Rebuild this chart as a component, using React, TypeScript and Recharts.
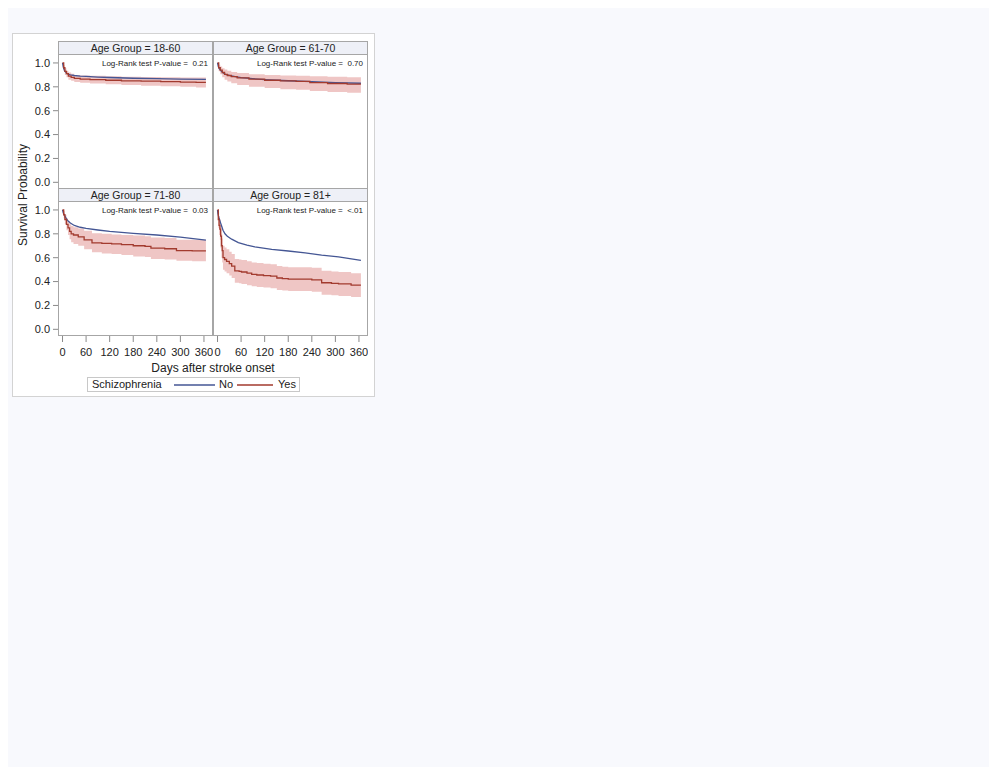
import React from 'react';
import { ComposedChart, Line, Area, XAxis, YAxis } from 'recharts';

// ---- axis ticks and panel labels ----
const dayTicks = [0, 60, 120, 180, 240, 300, 360];
const survTicks = [0, 0.2, 0.4, 0.6, 0.8, 1.0];
const groupLabels = ['Age Group = 18-60', 'Age Group = 61-70', 'Age Group = 71-80', 'Age Group = 81+'];
const pValueLabels = ['0.21', '0.70', '0.03', '<.01'];

// ---- Age 18-60 ----
const noDays1860 = [0, 2, 5, 10, 15, 20, 30, 45, 60, 90, 120, 180, 240, 300, 365];
const noSurv1860 = [1.0, 0.965, 0.935, 0.915, 0.905, 0.9, 0.895, 0.89, 0.887, 0.882, 0.878, 0.872, 0.868, 0.865, 0.862];
const yesDays1860 = [0, 3, 6, 10, 15, 22, 30, 45, 70, 110, 150, 200, 250, 300, 340, 365];
const yesSurv1860 = [1.0, 0.96, 0.93, 0.91, 0.89, 0.88, 0.87, 0.865, 0.86, 0.855, 0.85, 0.847, 0.843, 0.84, 0.838, 0.838];
const yesLower1860 = [1.0, 0.94, 0.9, 0.88, 0.86, 0.85, 0.84, 0.835, 0.828, 0.822, 0.816, 0.81, 0.805, 0.8, 0.795, 0.795];
const yesUpper1860 = [1.0, 0.98, 0.955, 0.935, 0.92, 0.91, 0.9, 0.895, 0.892, 0.888, 0.885, 0.883, 0.881, 0.879, 0.878, 0.878];

// ---- Age 61-70 ----
const noDays6170 = [0, 2, 5, 10, 15, 20, 30, 45, 60, 90, 120, 180, 240, 300, 365];
const noSurv6170 = [1.0, 0.97, 0.95, 0.93, 0.915, 0.905, 0.895, 0.885, 0.877, 0.868, 0.861, 0.851, 0.843, 0.836, 0.83];
const yesDays6170 = [0, 3, 7, 12, 18, 25, 35, 50, 80, 120, 160, 200, 235, 280, 330, 365];
const yesSurv6170 = [1.0, 0.96, 0.94, 0.92, 0.905, 0.895, 0.885, 0.875, 0.865, 0.855, 0.85, 0.845, 0.835, 0.828, 0.822, 0.822];
const yesLower6170 = [1.0, 0.93, 0.905, 0.88, 0.86, 0.845, 0.83, 0.815, 0.8, 0.79, 0.78, 0.775, 0.765, 0.757, 0.75, 0.75];
const yesUpper6170 = [1.0, 0.985, 0.97, 0.955, 0.945, 0.935, 0.925, 0.915, 0.905, 0.9, 0.895, 0.892, 0.888, 0.884, 0.88, 0.88];

// ---- Age 71-80 ----
const noDays7180 = [0, 2, 5, 10, 15, 20, 30, 45, 60, 90, 120, 180, 240, 300, 365];
const noSurv7180 = [1.0, 0.975, 0.955, 0.925, 0.905, 0.89, 0.87, 0.855, 0.845, 0.832, 0.82, 0.804, 0.79, 0.772, 0.748];
const yesDays7180 = [0, 3, 6, 10, 14, 18, 22, 28, 40, 55, 75, 100, 125, 150, 180, 210, 225, 260, 290, 330, 365];
const yesSurv7180 = [1.0, 0.96, 0.92, 0.88, 0.85, 0.82, 0.8, 0.79, 0.775, 0.75, 0.725, 0.72, 0.715, 0.71, 0.7, 0.695, 0.68, 0.675, 0.66, 0.658, 0.658];
const yesLower7180 = [1.0, 0.93, 0.88, 0.83, 0.79, 0.755, 0.73, 0.715, 0.7, 0.67, 0.645, 0.635, 0.63, 0.622, 0.61, 0.605, 0.59, 0.585, 0.575, 0.57, 0.57];
const yesUpper7180 = [1.0, 0.99, 0.96, 0.93, 0.905, 0.88, 0.865, 0.855, 0.845, 0.825, 0.805, 0.8, 0.795, 0.79, 0.785, 0.78, 0.77, 0.765, 0.75, 0.75, 0.75];

// ---- Age 81+ ----
const noDays81 = [0, 1, 3, 5, 8, 10, 14, 19, 25, 36, 53, 75, 95, 138, 180, 223, 265, 308, 365];
const noSurv81 = [1.0, 0.97, 0.94, 0.92, 0.89, 0.87, 0.83, 0.8, 0.78, 0.755, 0.726, 0.705, 0.69, 0.67, 0.656, 0.64, 0.622, 0.607, 0.578];
const yesDays81 = [0, 2, 4, 6, 8, 10, 12, 14, 18, 23, 30, 36, 44, 55, 61, 75, 87, 100, 117, 135, 151, 165, 180, 210, 240, 265, 290, 308, 340, 365];
const yesSurv81 = [1.0, 0.92, 0.87, 0.84, 0.78, 0.7, 0.66, 0.6, 0.585, 0.57, 0.55, 0.53, 0.49, 0.485, 0.48, 0.47, 0.46, 0.455, 0.45, 0.445, 0.43, 0.425, 0.42, 0.42, 0.415, 0.39, 0.385, 0.38, 0.37, 0.37];
const yesLower81 = [1.0, 0.85, 0.79, 0.75, 0.68, 0.6, 0.56, 0.5, 0.485, 0.47, 0.45, 0.43, 0.39, 0.385, 0.38, 0.37, 0.36, 0.355, 0.35, 0.345, 0.33, 0.325, 0.32, 0.32, 0.315, 0.29, 0.285, 0.28, 0.27, 0.27];
const yesUpper81 = [1.0, 0.98, 0.95, 0.92, 0.87, 0.8, 0.76, 0.7, 0.685, 0.67, 0.65, 0.63, 0.59, 0.585, 0.58, 0.57, 0.56, 0.555, 0.55, 0.545, 0.53, 0.525, 0.52, 0.52, 0.515, 0.49, 0.485, 0.48, 0.47, 0.47];

type Row = { day: number; s: number; band?: [number, number] };

function curve(days: number[], surv: number[], lower?: number[], upper?: number[]): Row[] {
  return days.map((d, i) => {
    const r: Row = { day: d, s: surv[i] };
    if (lower && upper) r.band = [lower[i], upper[i]];
    return r;
  });
}

const panels = [
  { no: curve(noDays1860, noSurv1860), yes: curve(yesDays1860, yesSurv1860, yesLower1860, yesUpper1860) },
  { no: curve(noDays6170, noSurv6170), yes: curve(yesDays6170, yesSurv6170, yesLower6170, yesUpper6170) },
  { no: curve(noDays7180, noSurv7180), yes: curve(yesDays7180, yesSurv7180, yesLower7180, yesUpper7180) },
  { no: curve(noDays81, noSurv81), yes: curve(yesDays81, yesSurv81, yesLower81, yesUpper81) },
];

// ---- styling ----
const FONT = '"Liberation Sans", Arial, sans-serif';
const BLUE = '#445694';
const RED = '#A23A2E';
const BAND = '#efc6c5';
const FRAME = '#a6a6a6';
const HEADER_BG = '#eef0f7';
const TEXT = '#222';

const PLOT_W = 155;
const PLOT_H = 135;
const Y_W = 30;
const X_H = 30;
const X_DOMAIN: [number, number] = [-11.5, 383];
const Y_DOMAIN: [number, number] = [-0.056, 1.075];

// panel layout: plot-area left/top (relative to root)
const COL_X = [50, 205];
const HEAD_Y = [33, 180];
const PLOT_Y = [46, 193];
const HEAD_H = 14;

function PanelChart({ idx }: { idx: number }) {
  const col = idx % 2;
  const row = Math.floor(idx / 2);
  const showY = col === 0;
  const showX = row === 1;
  const w = (showY ? Y_W : 0) + PLOT_W;
  const h = PLOT_H + (showX ? X_H : 0);
  const p = panels[idx];
  return (
    <div style={{ position: 'absolute', left: COL_X[col] - (showY ? Y_W : 0), top: PLOT_Y[row], width: w, height: h }}>
      <ComposedChart width={w} height={h} margin={{ top: 0, right: 0, bottom: 0, left: 0 }} style={{ overflow: 'visible' }}>
        <XAxis
          type="number"
          dataKey="day"
          domain={X_DOMAIN}
          ticks={dayTicks}
          hide={!showX}
          height={X_H}
          tickSize={6}
          tickMargin={6}
          axisLine={false}
          tickLine={{ stroke: '#8a8a8a' }}
          tick={{ fill: TEXT, fontSize: 11, fontFamily: FONT }}
          interval={0}
          allowDataOverflow
        />
        <YAxis
          type="number"
          domain={Y_DOMAIN}
          ticks={survTicks}
          hide={!showY}
          width={Y_W}
          tickSize={5}
          tickMargin={3}
          axisLine={false}
          tickLine={{ stroke: '#8a8a8a' }}
          tick={{ fill: TEXT, fontSize: 11, fontFamily: FONT }}
          tickFormatter={(v: number) => v.toFixed(1)}
          interval={0}
          allowDataOverflow
        />
        <Area
          data={p.yes}
          dataKey="band"
          type="stepAfter"
          fill={BAND}
          fillOpacity={1}
          stroke="none"
          isAnimationActive={false}
          activeDot={false}
        />
        <Line
          data={p.no}
          dataKey="s"
          type="linear"
          stroke={BLUE}
          strokeWidth={1.3}
          dot={false}
          activeDot={false}
          isAnimationActive={false}
        />
        <Line
          data={p.yes}
          dataKey="s"
          type="stepAfter"
          stroke={RED}
          strokeWidth={1.3}
          dot={false}
          activeDot={false}
          isAnimationActive={false}
        />
      </ComposedChart>
    </div>
  );
}

function PanelFrame({ idx }: { idx: number }) {
  const col = idx % 2;
  const row = Math.floor(idx / 2);
  const left = COL_X[col];
  return (
    <>
      <div
        style={{
          position: 'absolute',
          left,
          top: HEAD_Y[row],
          width: PLOT_W,
          height: HEAD_H,
          boxSizing: 'border-box',
          border: `1px solid ${FRAME}`,
          background: HEADER_BG,
          fontSize: 10.5,
          lineHeight: '12px',
          textAlign: 'center',
          color: TEXT,
          fontFamily: FONT,
        }}
      >
        {groupLabels[idx]}
      </div>
      <div
        style={{
          position: 'absolute',
          left,
          top: PLOT_Y[row],
          width: PLOT_W,
          height: PLOT_H,
          boxSizing: 'border-box',
          border: `1px solid ${FRAME}`,
          pointerEvents: 'none',
        }}
      />
      <div
        style={{
          position: 'absolute',
          left,
          top: PLOT_Y[row] + 5,
          width: PLOT_W - 5,
          fontSize: 8,
          lineHeight: '10px',
          textAlign: 'right',
          color: TEXT,
          fontFamily: FONT,
          whiteSpace: 'pre',
        }}
      >
        {'Log-Rank test P-value =  ' + pValueLabels[idx]}
      </div>
    </>
  );
}

export default function App() {
  return (
    <div style={{ position: 'relative', width: 989, height: 759, background: '#f8f9fd', fontFamily: FONT }}>
      <div
        style={{
          position: 'absolute',
          left: 4,
          top: 25,
          width: 363,
          height: 364,
          boxSizing: 'border-box',
          background: '#fff',
          border: '1px solid #d3d3d3',
        }}
      />
      {[0, 1, 2, 3].map((i) => (
        <PanelChart key={'c' + i} idx={i} />
      ))}
      {[0, 1, 2, 3].map((i) => (
        <PanelFrame key={'f' + i} idx={i} />
      ))}
      {/* y axis title */}
      <div
        style={{
          position: 'absolute',
          left: 15,
          top: 187,
          width: 0,
          height: 0,
        }}
      >
        <div
          style={{
            position: 'absolute',
            left: -70,
            top: -8,
            width: 140,
            height: 16,
            lineHeight: '16px',
            textAlign: 'center',
            fontSize: 12,
            color: TEXT,
            transform: 'rotate(-90deg)',
            whiteSpace: 'nowrap',
          }}
        >
          Survival Probability
        </div>
      </div>
      {/* x axis title */}
      <div
        style={{
          position: 'absolute',
          left: 105,
          top: 352,
          width: 200,
          lineHeight: '16px',
          textAlign: 'center',
          fontSize: 12,
          color: TEXT,
        }}
      >
        Days after stroke onset
      </div>
      {/* legend */}
      <div
        style={{
          position: 'absolute',
          left: 79,
          top: 369,
          width: 213,
          height: 15,
          boxSizing: 'border-box',
          border: '1px solid #c8c8c8',
          fontSize: 11,
          color: TEXT,
        }}
      >
        <span style={{ position: 'absolute', left: 4, top: 0, lineHeight: '13px' }}>Schizophrenia</span>
        <svg width={213} height={13} style={{ position: 'absolute', left: 0, top: 0 }}>
          <line x1={86} x2={127} y1={7} y2={7} stroke={BLUE} strokeWidth={1.3} />
          <line x1={149} x2={185} y1={7} y2={7} stroke={RED} strokeWidth={1.3} />
        </svg>
        <span style={{ position: 'absolute', left: 131, top: 0, lineHeight: '13px' }}>No</span>
        <span style={{ position: 'absolute', left: 190, top: 0, lineHeight: '13px' }}>Yes</span>
      </div>
    </div>
  );
}
